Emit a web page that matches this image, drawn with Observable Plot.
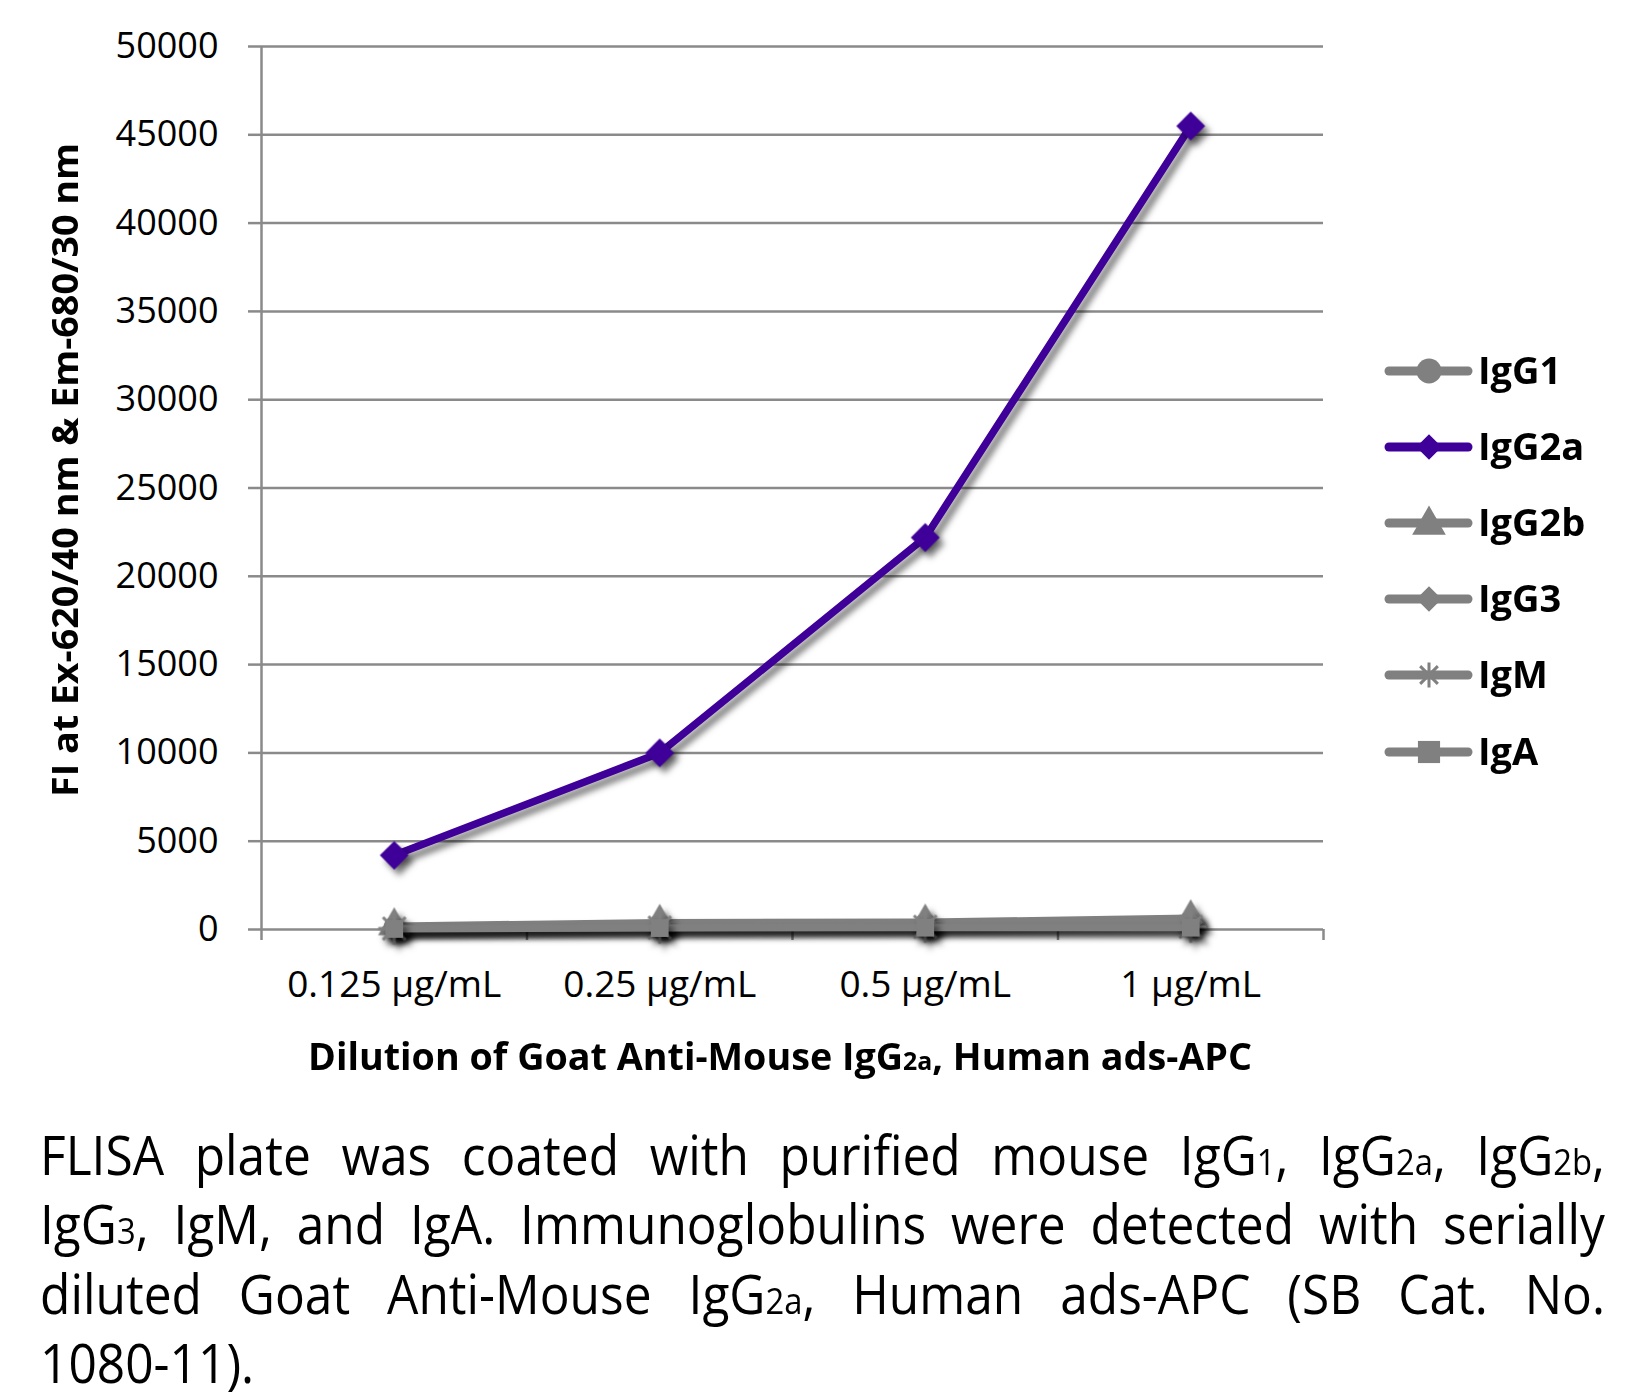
<!DOCTYPE html>
<html>
<head>
<meta charset="utf-8">
<script src="https://cdn.jsdelivr.net/npm/d3@7"></script>
<script src="https://cdn.jsdelivr.net/npm/@observablehq/plot@0.6"></script>
<style>
  html, body { margin: 0; padding: 0; background: white; }
  #wrap { position: relative; width: 1633px; height: 1398px; overflow: hidden; background: white; }
  #chart { position: absolute; left: 0; top: 0; }
  #overlay { position: absolute; left: 0; top: 0; }
  text { font-family: 'Open Sans', sans-serif; }
</style>
</head>
<body>
<div id="wrap">
  <div id="chart"></div>
  <svg id="overlay" width="1633" height="1398"></svg>
</div>
<script>
// ---------- data ----------
const categories = ["0.125 µg/mL", "0.25 µg/mL", "0.5 µg/mL", "1 µg/mL"];
const seriesNames = ["IgG1", "IgG2a", "IgG2b", "IgG3", "IgM", "IgA"];
const IgG1  = [150, 300, 350, 500];
const IgG2a = [4200, 10000, 22200, 45500];
const IgG2b = [200, 400, 420, 650];
const IgG3  = [100, 250, 300, 400];
const IgM   = [50, 100, 150, 150];
const IgA   = [30, 80, 100, 100];
const yTicks = [0, 5000, 10000, 15000, 20000, 25000, 30000, 35000, 40000, 45000, 50000];
const yTitle = "FI at Ex-620/40 nm & Em-680/30 nm";
const xTitle = [["Dilution of Goat Anti-Mouse IgG", false], ["2a", true], [", Human ads-APC", false]];
const captionLines = [
  [["FLISA plate was coated with purified mouse IgG", false], ["1", true], [", IgG", false], ["2a", true], [", IgG", false], ["2b", true], [",", false]],
  [["IgG", false], ["3", true], [", IgM, and IgA.  Immunoglobulins were detected with serially", false]],
  [["diluted Goat Anti-Mouse IgG", false], ["2a", true], [", Human ads-APC (SB Cat. No.", false]],
  [["1080-11).", false]]
];

// ---------- styles ----------
const GRAY = "#808080";
const GRID = "#8a8a8a";
const PURPLE = "#3f0099";
const asterisk8 = {
  draw(context, size) {
    const r = Math.sqrt(size / Math.PI);
    for (let k = 0; k < 4; k++) {
      const a = k * Math.PI / 4;
      const dx = r * Math.cos(a), dy = r * Math.sin(a);
      context.moveTo(-dx, -dy);
      context.lineTo(dx, dy);
    }
  }
};
const seriesStyle = {
  IgG1:  {color: GRAY, symbol: "circle", r: 10.5, filled: true},
  IgG2a: {color: PURPLE, symbol: "diamond2", r: 13, filled: true},
  IgG2b: {color: GRAY, symbol: "triangle", r: 12, filled: true},
  IgG3:  {color: GRAY, symbol: "diamond2", r: 11, filled: true},
  IgM:   {color: GRAY, symbol: asterisk8, r: 16, filled: false},
  IgA:   {color: GRAY, symbol: "square", r: 10, filled: true}
};
const seriesValues = {IgG1, IgG2a, IgG2b, IgG3, IgM, IgA};

const rows = [];
for (const s of seriesNames) {
  seriesValues[s].forEach((v, i) => rows.push({series: s, x: i + 0.5, value: v}));
}
const xCenters = categories.map((_, i) => i + 0.5);
const xBounds = d3.range(categories.length + 1);

const drawOrder = ["IgG1", "IgG2b", "IgG3", "IgM", "IgA", "IgG2a"];
const dataMarks = [];
for (const s of drawOrder) {
  const st = seriesStyle[s];
  const d = rows.filter(r => r.series === s);
  dataMarks.push(Plot.line(d, {x: "x", y: "value", stroke: st.color, strokeWidth: s === "IgG2a" ? 7.5 : 7, strokeLinejoin: "round"}));
  dataMarks.push(Plot.dot(d, {
    x: "x", y: "value", symbol: st.symbol, r: st.r,
    fill: st.filled ? st.color : "none",
    stroke: st.color, strokeWidth: st.filled ? 0 : 3
  }));
}

const chart = Plot.plot({
  width: 1633,
  height: 1010,
  marginLeft: 261,
  marginRight: 310,
  marginTop: 46,
  marginBottom: 81,
  style: {fontFamily: "'Open Sans', sans-serif", fontSize: "36px", color: "black", background: "white", overflow: "visible"},
  x: {type: "linear", domain: [0, categories.length]},
  y: {type: "linear", domain: [0, 50000]},
  marks: [
    Plot.gridY(yTicks, {stroke: GRID, strokeOpacity: 1, strokeWidth: 2.5}),
    Plot.axisY(yTicks, {tickSize: 13, tickPadding: 30, stroke: GRID, strokeWidth: 2.5, fontSize: 36, tickFormat: d3.format("d"), label: null}),
    Plot.ruleX([0], {stroke: GRID, strokeWidth: 2.5}),
    Plot.axisX(xBounds, {tickSize: 11, tickFormat: () => "", stroke: GRID, strokeWidth: 2.5, label: null}),
    Plot.axisX(xCenters, {tickSize: 0, tickPadding: 41, tickFormat: d => categories[Math.floor(d)], fontSize: 37, label: null}),
    ...dataMarks
  ]
});
document.getElementById("chart").appendChild(chart);

// soft drop shadow on the data marks (lines and dots) via CSS filter
const groups = Array.from(chart.querySelectorAll(":scope > g"));
groups.slice(groups.length - dataMarks.length).forEach(g => {
  g.style.filter = "drop-shadow(5px 6px 3px rgba(0,0,0,0.5))";
});

// ---------- overlay: titles, legend, caption ----------
const ov = d3.select("#overlay");

function addSegments(textSel, segs) {
  for (const [t, sub] of segs) {
    const ts = textSel.append("tspan").text(t);
    if (sub) ts.attr("font-size", "0.66em");
  }
}

// y title
ov.append("text")
  .attr("transform", "translate(78,470) rotate(-90)")
  .attr("text-anchor", "middle")
  .attr("font-weight", "bold").attr("font-size", 36)
  .attr("textLength", 654).attr("lengthAdjust", "spacingAndGlyphs")
  .text(yTitle);

// x title
const xt = ov.append("text")
  .attr("x", 780).attr("y", 1070)
  .attr("text-anchor", "middle")
  .attr("font-weight", "bold").attr("font-size", 37)
  .attr("textLength", 944).attr("lengthAdjust", "spacingAndGlyphs");
addSegments(xt, xTitle);

// legend
const legendY = [371, 447, 523, 599, 675, 752];
seriesNames.forEach((s, i) => {
  const st = seriesStyle[s];
  const cy = legendY[i];
  const g = ov.append("g");
  g.append("line").attr("x1", 1389).attr("x2", 1468).attr("y1", cy).attr("y2", cy)
    .attr("stroke", st.color).attr("stroke-width", 9).attr("stroke-linecap", "round");
  let sym;
  if (st.symbol === "circle") sym = d3.symbolCircle;
  else if (st.symbol === "diamond2") sym = d3.symbolDiamond2;
  else if (st.symbol === "triangle") sym = d3.symbolTriangle;
  else if (st.symbol === "square") sym = d3.symbolSquare;
  else sym = st.symbol;
  const r = 12.5;
  const size = (st.symbol === "diamond2") ? 11.5 * 11.5 * Math.PI : r * r * Math.PI;
  g.append("path").attr("transform", `translate(1429,${cy + (st.symbol === "triangle" ? 2 : 0)})`)
    .attr("d", d3.symbol(sym, size)())
    .attr("fill", st.filled ? st.color : "none")
    .attr("stroke", st.filled ? "none" : st.color).attr("stroke-width", 3);
  g.append("text").attr("x", 1478).attr("y", cy + 13)
    .attr("font-weight", "bold").attr("font-size", 38).attr("fill", "black")
    .text(s);
});

// caption
const capScale = 0.92;
const capWidth = 1565 / capScale;
const capG = ov.append("g").attr("transform", `translate(40,0) scale(${capScale},1)`);
const baselines = [1175, 1244, 1314, 1383];
captionLines.forEach((segs, i) => {
  const t = capG.append("text").attr("x", 0).attr("y", baselines[i])
    .attr("font-size", 54).attr("fill", "black");
  addSegments(t, segs);
  if (i < captionLines.length - 1) {
    const natural = t.node().getComputedTextLength();
    const full = segs.map(d => d[0]).join("").replace(/\s+/g, " ");
    const spaces = (full.match(/ /g) || []).length;
    const extra = capWidth - natural;
    if (extra >= 0) {
      t.attr("word-spacing", extra / spaces);
    } else {
      t.attr("textLength", capWidth).attr("lengthAdjust", "spacingAndGlyphs");
    }
  }
});
</script>
</body>
</html>
